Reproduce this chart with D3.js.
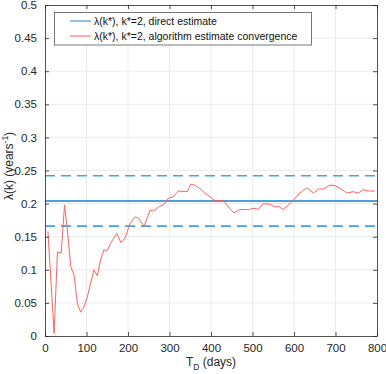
<!DOCTYPE html>
<html>
<head>
<meta charset="utf-8">
<script src="https://cdn.jsdelivr.net/npm/d3@7"></script>
<style>
  body { margin: 0; background: #fff; }
  svg { display: block; font-family: "Liberation Sans", Arial, sans-serif; }
</style>
</head>
<body>
<svg id="chart" width="386" height="374"></svg>
<script>
// convergence of the algorithm estimate (days, value)
var days = [7, 22, 30, 39, 47, 54, 62, 70, 78, 86, 94, 102, 110, 118, 126, 134, 142, 150, 158, 166,
  173, 183, 193, 205, 217, 225, 239, 253, 261, 277, 287, 297, 309, 321, 343, 351, 361, 373, 385, 398,
  410, 430, 442, 455, 470, 490, 506, 514, 526, 542, 554, 562, 574, 590, 598, 614, 631, 647, 659, 671,
  687, 699, 711, 727, 743, 755, 767, 779, 795];
var lambdaAlg = [0.158, 0.004, 0.127, 0.125, 0.198, 0.160, 0.105, 0.092, 0.049, 0.036, 0.044, 0.059, 0.080, 0.100, 0.091, 0.115, 0.130, 0.129, 0.140, 0.148,
  0.155, 0.141, 0.148, 0.170, 0.180, 0.178, 0.166, 0.190, 0.189, 0.196, 0.199, 0.208, 0.210, 0.219, 0.218, 0.229, 0.228, 0.223, 0.216, 0.210,
  0.204, 0.205, 0.195, 0.186, 0.191, 0.191, 0.193, 0.191, 0.200, 0.199, 0.195, 0.196, 0.191, 0.200, 0.205, 0.216, 0.224, 0.216, 0.222, 0.222,
  0.228, 0.227, 0.223, 0.216, 0.218, 0.216, 0.221, 0.219, 0.219];

var directEstimate = 0.204;
var confBounds = [0.166, 0.242];

var xTicks = [0, 100, 200, 300, 400, 500, 600, 700, 800];
var yTicks = [0, 0.05, 0.1, 0.15, 0.2, 0.25, 0.3, 0.35, 0.4, 0.45, 0.5];
var legendLabels = ["\u03bb(k*), k*=2, direct estimate", "\u03bb(k*), k*=2, algorithm estimate convergence"];

var svg = d3.select("#chart");
var plotL = 45, plotR = 377, plotT = 5, plotB = 336;
var axisColor = "#262626";

var x = d3.scaleLinear().domain([0, 800]).range([plotL, plotR]);
var y = d3.scaleLinear().domain([0, 0.5]).range([plotB, plotT]);

// grid
svg.append("g").selectAll("line").data(xTicks.slice(1, -1)).enter().append("line")
  .attr("x1", function (d) { return x(d); }).attr("x2", function (d) { return x(d); })
  .attr("y1", plotT).attr("y2", plotB)
  .attr("stroke", "#ebebeb").attr("stroke-width", 1);
svg.append("g").selectAll("line").data(yTicks.slice(1, -1)).enter().append("line")
  .attr("y1", function (d) { return y(d); }).attr("y2", function (d) { return y(d); })
  .attr("x1", plotL).attr("x2", plotR)
  .attr("stroke", "#ebebeb").attr("stroke-width", 1);

// reference lines
var blue = "#4d9fdc";
svg.append("line")
  .attr("x1", x(0)).attr("x2", x(800))
  .attr("y1", y(directEstimate)).attr("y2", y(directEstimate))
  .attr("stroke", blue).attr("stroke-width", 2);
confBounds.forEach(function (b) {
  svg.append("line")
    .attr("x1", x(0)).attr("x2", x(800))
    .attr("y1", y(b)).attr("y2", y(b))
    .attr("stroke", blue).attr("stroke-width", 1.6)
    .attr("stroke-dasharray", "10,6");
});

// algorithm estimate
var line = d3.line()
  .x(function (d, i) { return x(days[i]); })
  .y(function (d) { return y(d); });
svg.append("path").datum(lambdaAlg)
  .attr("d", line)
  .attr("fill", "none")
  .attr("stroke", "#ff5050")
  .attr("stroke-width", 0.9)
  .attr("stroke-linejoin", "round");

// axes (box style, ticks inside)
var fmtY = d3.format(".2~f");
var xAxis = d3.axisBottom(x).tickValues(xTicks).tickSizeInner(-4).tickSizeOuter(0).tickPadding(8);
var xTop = d3.axisTop(x).tickValues(xTicks).tickSizeInner(-4).tickSizeOuter(0).tickFormat("");
var yAxis = d3.axisLeft(y).tickValues(yTicks).tickSizeInner(-4).tickSizeOuter(0).tickPadding(8).tickFormat(fmtY);
var yRight = d3.axisRight(y).tickValues(yTicks).tickSizeInner(-4).tickSizeOuter(0).tickFormat("");

function styleAxis(g) {
  g.selectAll("path").attr("stroke", axisColor).attr("stroke-width", 0.8);
  g.selectAll("line").attr("stroke", axisColor).attr("stroke-width", 0.8);
  g.selectAll("text").attr("fill", axisColor).style("font-size", "11.5px").style("font-family", "Liberation Sans, Arial, sans-serif");
}
svg.append("g").attr("transform", "translate(0," + plotB + ")").call(xAxis).call(styleAxis);
svg.append("g").attr("transform", "translate(0," + plotT + ")").call(xTop).call(styleAxis);
svg.append("g").attr("transform", "translate(" + plotL + ",0)").call(yAxis).call(styleAxis);
svg.append("g").attr("transform", "translate(" + plotR + ",0)").call(yRight).call(styleAxis);

// axis labels
var xl = svg.append("text")
  .attr("x", (plotL + plotR) / 2).attr("y", 366)
  .attr("text-anchor", "middle")
  .attr("fill", axisColor).style("font-size", "12px");
xl.append("tspan").text("T");
xl.append("tspan").attr("dy", 4).style("font-size", "8.5px").text("D");
xl.append("tspan").attr("dy", -4).text(" (days)");

var yl = svg.append("text")
  .attr("transform", "translate(13,166) rotate(-90)")
  .attr("text-anchor", "middle")
  .attr("fill", axisColor).style("font-size", "12px");
yl.append("tspan").text("\u03bb(k) (years");
yl.append("tspan").attr("dy", -5).style("font-size", "8.5px").text("-1");
yl.append("tspan").attr("dy", 5).text(")");

// legend
var lg = svg.append("g");
lg.append("rect")
  .attr("x", 54.5).attr("y", 12.5).attr("width", 257).attr("height", 32.5)
  .attr("fill", "#fff").attr("stroke", "#555").attr("stroke-width", 0.8);
var legendColors = ["#2f7fc1", "#ff5a5a"];
legendLabels.forEach(function (t, i) {
  var yy = 21 + i * 15;
  lg.append("line").attr("x1", 70).attr("x2", 91).attr("y1", yy).attr("y2", yy)
    .attr("stroke", legendColors[i]).attr("stroke-width", 1);
  lg.append("text").attr("x", 94).attr("y", yy + 4)
    .attr("fill", "#111").style("font-size", "10.5px").text(t);
});
</script>
</body>
</html>
